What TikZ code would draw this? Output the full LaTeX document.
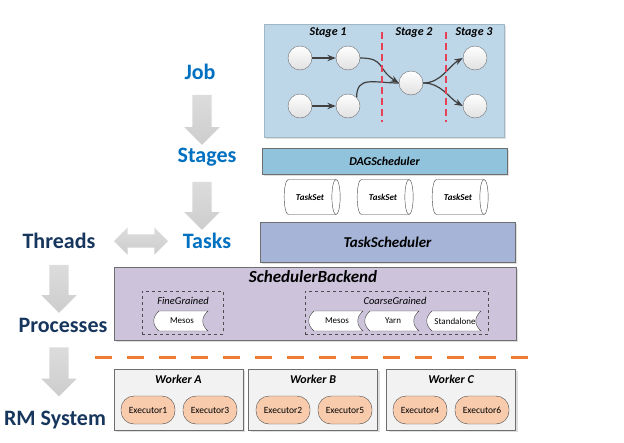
\documentclass[tikz,border=0pt]{standalone}
\usepackage{fontspec}
\setmainfont{Carlito}
\usetikzlibrary{arrows.meta, calc, shapes.geometric, shapes.arrows, shadows}

\definecolor{jobblue}{RGB}{0,112,192}
\definecolor{navy}{RGB}{23,54,93}
\definecolor{stagebg}{RGB}{190,215,232}
\definecolor{dagblue}{RGB}{146,195,220}
\definecolor{taskblue}{RGB}{166,180,215}
\definecolor{backendlilac}{RGB}{205,196,220}
\definecolor{blockgray}{RGB}{205,205,205}
\definecolor{execpeach}{RGB}{248,203,173}
\definecolor{cutred}{RGB}{232,64,84}
\definecolor{cutorange}{RGB}{237,125,49}
\definecolor{edgegray}{RGB}{110,110,110}

\begin{document}
\begin{tikzpicture}[
    x=1pt, y=-1pt,
    >=Stealth,
    level/.style={font=\fontsize{22}{26}\selectfont\bfseries, text=jobblue},
    sublevel/.style={font=\fontsize{22}{26}\selectfont\bfseries, text=navy},
    downarrow/.style={single arrow, draw=none, top color=blockgray!70, bottom color=blockgray, inner sep=9.5pt,
        single arrow head extend=8pt, single arrow head indent=0pt,
        shape border rotate=270},
    layer/.style={draw=edgegray, rectangle, inner sep=0pt, drop shadow={opacity=0.25, shadow xshift=2pt, shadow yshift=-2pt}},
    group/.style={draw=black!70, dashed, rectangle, inner sep=0pt},
    job/.style={circle, draw=edgegray, top color=white, bottom color=black!12, minimum size=24pt, inner sep=0pt},
    taskset/.style={cylinder, draw=black!75, fill=white, aspect=1.3, minimum width=35pt, minimum height=56pt,
        inner sep=0pt, font=\fontsize{9}{10}\selectfont\bfseries\itshape},
    tapeline/.style={draw=black!75, fill=white},
    tapetext/.style={font=\fontsize{9}{10}\selectfont, inner sep=0pt},
    executor/.style={draw=black!70, fill=execpeach, rounded corners=13pt, minimum width=54pt, minimum height=28pt,
        inner sep=0pt, font=\fontsize{9.5}{11}\selectfont},
    title/.style={font=\fontsize{12}{14}\selectfont\bfseries\itshape}
]
\useasboundingbox (0,0) rectangle (624,442);

% Left column: abstraction levels
\node[level] (joblbl) at (200,72) {Job};
\node[level] (stageslbl) at (207,157) {Stages};
\node[level] (taskslbl) at (207,241) {Tasks};
\node[sublevel] (threadslbl) at (59,241) {Threads};
\node[sublevel] (processeslbl) at (63,325) {Processes};
\node[sublevel] (rmlbl) at (55,420) {RM System};

% Gray block arrows between levels
\node[downarrow, minimum height=50pt] (jobarrow) at (202,115) {};
\node[downarrow, minimum height=48pt] (stagearrow) at (202,201) {};
\node[downarrow, minimum height=48pt] (threadarrow) at (59,284) {};
\node[downarrow, minimum height=49pt] (processarrow) at (59,367) {};
\node[double arrow, draw=none, top color=blockgray!70, bottom color=blockgray, inner sep=6.5pt,
    double arrow head extend=7pt, double arrow head indent=0pt, minimum height=54pt] (swaparrow) at (141,241) {};

% DAG of the job, cut into stages
\node[layer, fill=stagebg, draw=stagebg!85!black, minimum width=240pt, minimum height=113pt] (dagbox) at (384,80.5) {};
\node[title] (stage1) at (328,33) {Stage 1};
\node[title] (stage2) at (414,33) {Stage 2};
\node[title] (stage3) at (474,33) {Stage 3};

\node[job] (r1) at (300,58) {};
\node[job] (r2) at (348,58) {};
\node[job] (r3) at (300,106) {};
\node[job] (r4) at (348,106) {};
\node[job] (mid) at (411,83) {};
\node[job] (out1) at (475,58) {};
\node[job] (out2) at (475,106) {};

\draw[->, very thick, black!75] (r1) -- (r2);
\draw[->, very thick, black!75] (r3) -- (r4);
\draw[->, very thick, black!75] (r2.east) .. controls +(25,0) and +(-22,-14) .. (mid.west);
\draw[very thick, black!75] (r4.north east) .. controls +(0,-22) and +(-25,0) .. (mid.west);
\draw[->, very thick, black!75] (mid.east) .. controls +(18,0) and +(-14,8) .. (out1.west);
\draw[->, very thick, black!75] (mid.east) .. controls +(18,0) and +(-14,-8) .. (out2.west);

% Stage boundaries
\draw[cutred, line width=1.1pt, dash pattern=on 7pt off 4pt] (382,32) -- (382,122);
\draw[cutred, line width=1.1pt, dash pattern=on 7pt off 4pt] (446,32) -- (446,122);

% DAGScheduler and its task sets
\node[layer, fill=dagblue, minimum width=245pt, minimum height=26pt, font=\fontsize{12}{14}\selectfont\bfseries\itshape]
    (dagsched) at (384.5,161) {DAGScheduler};
\node[taskset] (ts1) at (310,197) {TaskSet};
\node[taskset] (ts2) at (383,197) {TaskSet};
\node[taskset] (ts3) at (458,197) {TaskSet};

% TaskScheduler
\node[layer, fill=taskblue, minimum width=255pt, minimum height=40pt, font=\fontsize{15}{18}\selectfont\bfseries\itshape]
    (tasksched) at (387.5,242) {TaskScheduler};

% SchedulerBackend with its modes
\node[layer, fill=backendlilac, minimum width=402pt, minimum height=73pt] (backend) at (315,303.5) {};
\node[font=\fontsize{17}{20}\selectfont\bfseries\itshape] (backendlbl) at (313,277) {SchedulerBackend};
\node[group, minimum width=81pt, minimum height=43pt] (fine) at (182.5,312.5) {};
\node[font=\fontsize{10.5}{12}\selectfont\itshape] (finelbl) at (183,301) {FineGrained};
\node[group, minimum width=183pt, minimum height=43pt] (coarse) at (396.5,312.5) {};
\node[font=\fontsize{10.5}{12}\selectfont\itshape] (coarselbl) at (395,301) {CoarseGrained};

\foreach \name/\px/\lbl in {finemesos/181/Mesos, coarsemesos/336/Mesos, yarn/392/Yarn, standalone/454/Standalone} {
    \draw[tapeline] (\px-22,311) -- (\px+27,311) .. controls (\px+20,317) and (\px+20,325) .. (\px+27,331)
        -- (\px-22,331) .. controls (\px-29,325) and (\px-29,317) .. (\px-22,311) -- cycle;
    \node[tapetext] (\name) at (\px+1,321) {\lbl};
}

% Driver / cluster split
\draw[cutorange, line width=3pt, dash pattern=on 17pt off 15pt] (95,357) -- (530,357);

% Workers and executors
\foreach \w/\cx/\ea/\eb/\na/\nb in {A/178.5/1/3/148/210, B/313/2/5/283/345, C/451/4/6/420/482} {
    \node[layer, fill=black!5, minimum width=129pt, minimum height=61pt] (worker\w) at (\cx,399.5) {};
    \node[title] (worker\w lbl) at (\cx,379) {Worker \w};
    \node[executor] (exec\ea) at (\na,410) {Executor\ea};
    \node[executor] (exec\eb) at (\nb,410) {Executor\eb};
}

\end{tikzpicture}
\end{document}
